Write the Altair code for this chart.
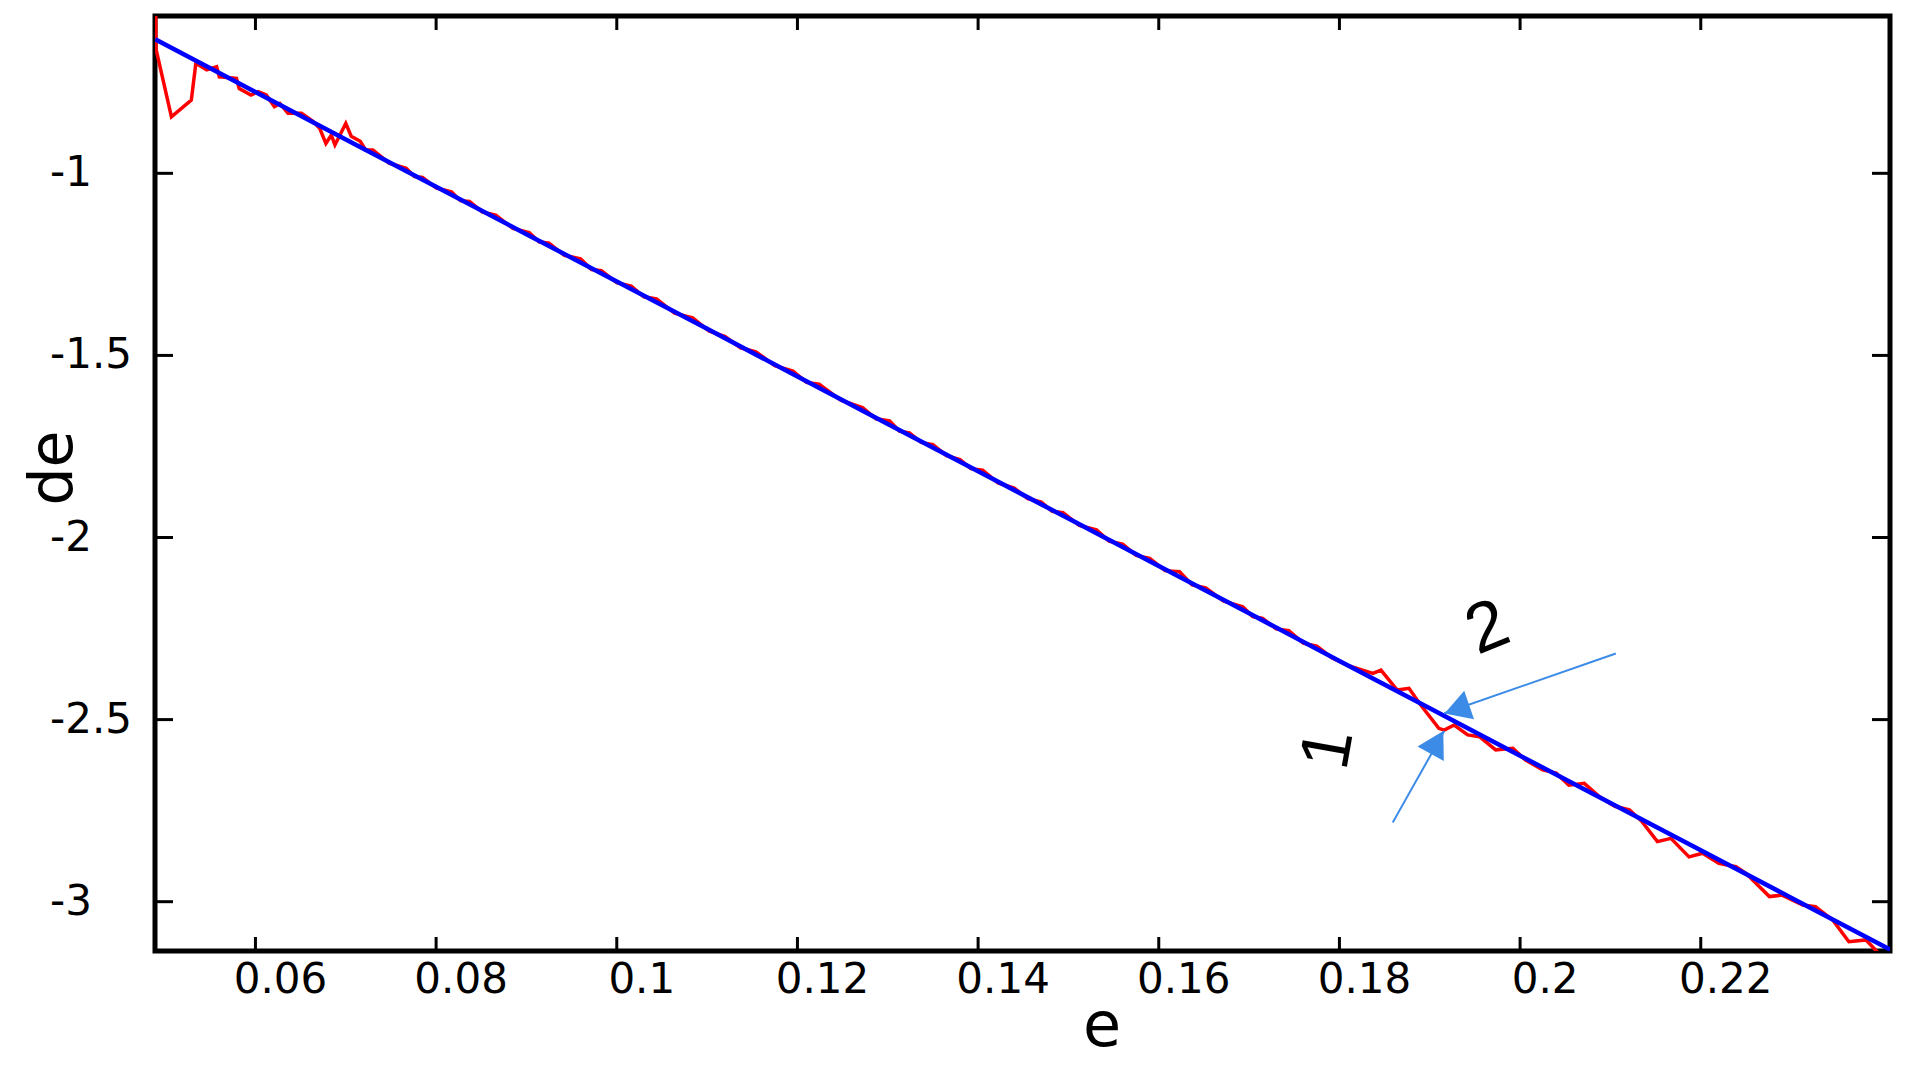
import altair as alt
import pandas as pd

# ---- data ----
x_ticks = [0.06, 0.08, 0.10, 0.12, 0.14, 0.16, 0.18, 0.20, 0.22]
x_labels = ["0.06", "0.08", "0.1", "0.12", "0.14", "0.16", "0.18", "0.2", "0.22"]
y_ticks = [-3.0, -2.5, -2.0, -1.5, -1.0]
y_labels = ["-3", "-2.5", "-2", "-1.5", "-1"]
x_title = "e"
y_title = "de"

red_e = [0.0489, 0.0490, 0.0507, 0.0529, 0.0534, 0.0546, 0.0557, 0.0560, 0.0579, 0.0582,
         0.0595, 0.0603, 0.0612, 0.0621, 0.0627, 0.0636, 0.0651, 0.0664, 0.0671, 0.0678,
         0.0684, 0.0688, 0.0700, 0.0706, 0.0716, 0.0722, 0.0730, 0.0748, 0.0767, 0.0776,
         0.0785, 0.0800, 0.0817, 0.0827, 0.0837, 0.0851, 0.0866, 0.0885, 0.0903, 0.0914,
         0.0925, 0.0942, 0.0960, 0.0972, 0.0983, 0.1000, 0.1016, 0.1030, 0.1044, 0.1064,
         0.1084, 0.1102, 0.1120, 0.1137, 0.1154, 0.1175, 0.1195, 0.1210, 0.1224, 0.1248,
         0.1272, 0.1287, 0.1302, 0.1313, 0.1324, 0.1337, 0.1350, 0.1365, 0.1380, 0.1392,
         0.1405, 0.1422, 0.1440, 0.1455, 0.1470, 0.1482, 0.1494, 0.1512, 0.1531, 0.1545,
         0.1560, 0.1575, 0.1590, 0.1607, 0.1623, 0.1637, 0.1652, 0.1672, 0.1693, 0.1704,
         0.1715, 0.1730, 0.1744, 0.1760, 0.1775, 0.1792, 0.1810, 0.1837, 0.1846, 0.1864,
         0.1877, 0.1890, 0.1910, 0.1916, 0.1927, 0.1942, 0.1955, 0.1973, 0.1992, 0.2006,
         0.2025, 0.2040, 0.2054, 0.2071, 0.2088, 0.2105, 0.2121, 0.2135, 0.2152, 0.2167,
         0.2187, 0.2202, 0.2220, 0.2239, 0.2250, 0.2276, 0.2290, 0.2313, 0.2327, 0.2346,
         0.2364, 0.2383, 0.2400]
red_de = [-0.450, -0.660, -0.845, -0.799, -0.698, -0.716, -0.707, -0.735, -0.739, -0.767,
          -0.785, -0.776, -0.785, -0.817, -0.808, -0.835, -0.835, -0.858, -0.876, -0.918,
          -0.895, -0.922, -0.863, -0.898, -0.912, -0.936, -0.936, -0.972, -0.986, -1.009,
          -1.011, -1.040, -1.051, -1.075, -1.077, -1.106, -1.115, -1.151, -1.163, -1.188,
          -1.192, -1.225, -1.235, -1.264, -1.267, -1.300, -1.310, -1.339, -1.345, -1.384,
          -1.397, -1.433, -1.448, -1.479, -1.490, -1.528, -1.543, -1.574, -1.579, -1.623,
          -1.643, -1.674, -1.680, -1.708, -1.713, -1.739, -1.745, -1.775, -1.786, -1.811,
          -1.815, -1.850, -1.864, -1.893, -1.903, -1.928, -1.932, -1.967, -1.979, -2.010,
          -2.018, -2.049, -2.057, -2.091, -2.094, -2.130, -2.138, -2.175, -2.190, -2.217,
          -2.222, -2.251, -2.256, -2.290, -2.298, -2.331, -2.352, -2.373, -2.364, -2.419,
          -2.414, -2.460, -2.524, -2.529, -2.515, -2.542, -2.547, -2.583, -2.579, -2.611,
          -2.638, -2.647, -2.680, -2.675, -2.712, -2.738, -2.748, -2.780, -2.835, -2.826,
          -2.877, -2.867, -2.895, -2.904, -2.922, -2.986, -2.982, -3.009, -3.014, -3.050,
          -3.110, -3.105, -3.150]

blue_e = [0.0489, 0.06, 0.07, 0.08, 0.09, 0.10, 0.11, 0.12, 0.13, 0.14, 0.15, 0.16,
          0.17, 0.18, 0.19, 0.20, 0.21, 0.22, 0.23, 0.24, 0.2416]
blue_de = [-0.632, -0.777, -0.907, -1.037, -1.167, -1.297, -1.427, -1.558, -1.688,
           -1.818, -1.948, -2.078, -2.208, -2.339, -2.469, -2.599, -2.729, -2.859,
           -2.989, -3.119, -3.140]

ann_text = ["2", "1"]
ann_e = [0.1964, 0.1788]
ann_de = [-2.249, -2.581]
ann_angle = [338, 280]

arrow_e = [0.2106, 0.1859]
arrow_de = [-2.3185, -2.7825]
arrow_e2 = [0.1916, 0.1916]
arrow_de2 = [-2.4827, -2.5313]
head_e = [0.1930, 0.1908]
head_de = [-2.4714, -2.5625]
head_angle = [251, 29]

# ---- layout ----
W, H = 1735, 935
XDOM = [0.04888, 0.24095]
YDOM = [-3.1354, -0.568]
FONT = "DejaVu Sans"
ANN_FONT = "Liberation Sans"
ARROW_COLOR = "#3c8be6"

xs = alt.Scale(domain=XDOM, nice=False, zero=False)
ys = alt.Scale(domain=YDOM, nice=False, zero=False)

red_df = pd.DataFrame({"e": red_e, "de": red_de})
blue_df = pd.DataFrame({"e": blue_e, "de": blue_de})
xt_df = pd.DataFrame({"v": x_ticks, "lab": x_labels})
yt_df = pd.DataFrame({"v": y_ticks, "lab": y_labels})
ann_df = pd.DataFrame({"e": ann_e, "de": ann_de, "t": ann_text, "a": ann_angle})
arr_df = pd.DataFrame({"e": arrow_e, "de": arrow_de, "e2": arrow_e2, "de2": arrow_de2})
head_df = pd.DataFrame({"e": head_e, "de": head_de, "a": head_angle})
xtitle_df = pd.DataFrame({"t": [x_title]})
ytitle_df = pd.DataFrame({"t": [y_title]})

red = alt.Chart(red_df).mark_line(color="#ff0000", strokeWidth=3.5, clip=True).encode(
    x=alt.X("e:Q", scale=xs, axis=None),
    y=alt.Y("de:Q", scale=ys, axis=None),
    order=alt.Order("e:Q"),
)
blue = alt.Chart(blue_df).mark_line(color="#0000ff", strokeWidth=4.5, clip=True).encode(
    x=alt.X("e:Q", scale=xs, axis=None),
    y=alt.Y("de:Q", scale=ys, axis=None),
    order=alt.Order("e:Q"),
)

tick_style = dict(color="black", strokeWidth=3)
left_t = alt.Chart(yt_df).mark_rule(**tick_style).encode(
    y=alt.Y("v:Q", scale=ys, axis=None), x=alt.value(0), x2=alt.value(18))
right_t = alt.Chart(yt_df).mark_rule(**tick_style).encode(
    y=alt.Y("v:Q", scale=ys, axis=None), x=alt.value(W - 18), x2=alt.value(W))
bottom_t = alt.Chart(xt_df).mark_rule(**tick_style).encode(
    x=alt.X("v:Q", scale=xs, axis=None), y=alt.value(H - 14), y2=alt.value(H))
top_t = alt.Chart(xt_df).mark_rule(**tick_style).encode(
    x=alt.X("v:Q", scale=xs, axis=None), y=alt.value(0), y2=alt.value(14))

x_lab = alt.Chart(xt_df).mark_text(font=FONT, fontSize=42, color="black", align="center",
                                   baseline="middle", dx=25).encode(
    x=alt.X("v:Q", scale=xs, axis=None), y=alt.value(H + 29), text="lab:N")
y_lab = alt.Chart(yt_df).mark_text(font=FONT, fontSize=42, color="black", align="left",
                                   baseline="middle").encode(
    y=alt.Y("v:Q", scale=ys, axis=None), x=alt.value(-105), text="lab:N")

x_tit = alt.Chart(xtitle_df).mark_text(font=FONT, fontSize=62, color="black",
                                       align="center", baseline="alphabetic").encode(
    x=alt.value(947), y=alt.value(H + 95), text="t:N")
y_tit = alt.Chart(ytitle_df).mark_text(font=FONT, fontSize=60, color="black",
                                       align="center", baseline="alphabetic",
                                       angle=270).encode(
    x=alt.value(-83), y=alt.value(452), text="t:N")

arrows = alt.Chart(arr_df).mark_rule(color=ARROW_COLOR, strokeWidth=2).encode(
    x=alt.X("e:Q", scale=xs, axis=None), y=alt.Y("de:Q", scale=ys, axis=None),
    x2="e2:Q", y2="de2:Q")
heads = alt.Chart(head_df).mark_point(shape="triangle-up", filled=True, opacity=1,
                                      color=ARROW_COLOR, size=900).encode(
    x=alt.X("e:Q", scale=xs, axis=None), y=alt.Y("de:Q", scale=ys, axis=None),
    angle=alt.Angle("a:Q", scale=None))
labels = alt.Chart(ann_df).mark_text(font=ANN_FONT, fontSize=70, color="black",
                                     align="center", baseline="middle").encode(
    x=alt.X("e:Q", scale=xs, axis=None), y=alt.Y("de:Q", scale=ys, axis=None),
    text="t:N", angle=alt.Angle("a:Q", scale=None))

chart = alt.layer(red, blue, left_t, right_t, bottom_t, top_t, x_lab, y_lab, x_tit, y_tit,
                  arrows, heads, labels).properties(
    width=W, height=H,
    autosize=alt.AutoSizeParams(type="none"),
    padding={"left": 147, "top": 8, "right": 6, "bottom": 114},
    background="white",
).configure_view(stroke="black", strokeWidth=5)

chart.save("out.html", embed_options={"renderer": "svg", "actions": False})
